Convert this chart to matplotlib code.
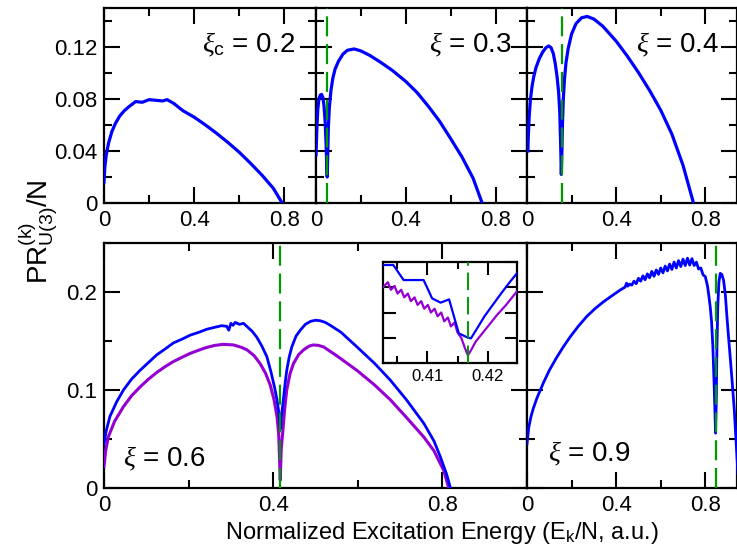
import matplotlib
matplotlib.use("Agg")
import matplotlib.pyplot as plt
from matplotlib.ticker import MultipleLocator, FuncFormatter

plt.rcParams['font.family'] = ['Liberation Sans', 'DejaVu Sans']
plt.rcParams['mathtext.fontset'] = 'custom'
plt.rcParams['mathtext.rm'] = 'Liberation Sans'
plt.rcParams['mathtext.it'] = 'Liberation Serif:italic'

BLUE = '#0000ff'
PURPLE = '#9400d3'
GREEN = '#009a00'

# ---- xi_c = 0.2 ----
x02 = [0, 0.004, 0.01, 0.02, 0.035, 0.05, 0.07, 0.09, 0.11, 0.14, 0.17, 0.2, 0.23,
       0.26, 0.28, 0.31, 0.35, 0.4, 0.45, 0.5, 0.55, 0.6, 0.65, 0.7, 0.75, 0.79]
y02 = [0.016, 0.028, 0.037, 0.046, 0.055, 0.061, 0.067, 0.071, 0.074, 0.078, 0.0775,
       0.0795, 0.079, 0.0785, 0.0795, 0.0765, 0.071, 0.066, 0.06, 0.0535, 0.0465,
       0.039, 0.0305, 0.0215, 0.0115, 0.0]

# ---- xi = 0.3 ----
x03 = [0, 0.004, 0.008, 0.013, 0.019, 0.025, 0.031, 0.036, 0.041, 0.045, 0.048, 0.05,
       0.052, 0.055, 0.06, 0.067, 0.075, 0.085, 0.1, 0.12, 0.14, 0.17, 0.2, 0.24, 0.29,
       0.34, 0.4, 0.45, 0.5, 0.55, 0.6, 0.65, 0.7, 0.74]
y03 = [0.037, 0.058, 0.072, 0.080, 0.083, 0.0835, 0.081, 0.074, 0.062, 0.045, 0.028,
       0.02, 0.035, 0.058, 0.075, 0.087, 0.096, 0.103, 0.109, 0.1145, 0.1175, 0.1185,
       0.117, 0.1135, 0.108, 0.102, 0.0935, 0.085, 0.0745, 0.063, 0.0495, 0.0355,
       0.019, 0.0]
xc03 = 0.049

# ---- xi = 0.4 ----
x04 = [0.004, 0.006, 0.01, 0.015, 0.022, 0.03, 0.04, 0.055, 0.07, 0.085, 0.097, 0.108,
       0.118, 0.127, 0.135, 0.142, 0.147, 0.151, 0.154, 0.156, 0.159, 0.163, 0.168,
       0.175, 0.185, 0.2, 0.22, 0.245, 0.27, 0.3, 0.34, 0.4, 0.45, 0.5, 0.55, 0.6,
       0.65, 0.7, 0.747]
y04 = [0.04, 0.052, 0.067, 0.079, 0.089, 0.097, 0.104, 0.111, 0.116, 0.1195, 0.1208,
       0.1195, 0.115, 0.107, 0.097, 0.085, 0.070, 0.045, 0.022, 0.035, 0.060, 0.080,
       0.095, 0.108, 0.119, 0.130, 0.138, 0.1425, 0.1435, 0.1415, 0.136, 0.1245,
       0.113, 0.1004, 0.0866, 0.0714, 0.053, 0.029, 0.0]
xc04 = 0.156

# ---- xi = 0.6 (two sizes) ----
x06b = [0, 0.005, 0.014, 0.03, 0.046, 0.065, 0.085, 0.105, 0.125, 0.145, 0.164, 0.185,
        0.204, 0.225, 0.243, 0.262, 0.278, 0.29, 0.295, 0.30, 0.305, 0.31, 0.32, 0.33,
        0.34, 0.35, 0.361, 0.373, 0.385, 0.395, 0.403, 0.409, 0.413, 0.4167, 0.42,
        0.424, 0.428, 0.432, 0.438, 0.444, 0.454, 0.464, 0.476, 0.488, 0.5, 0.511,
        0.523, 0.535, 0.56, 0.598, 0.64, 0.677, 0.715, 0.756, 0.78, 0.795, 0.81, 0.819]
y06b = [0.045, 0.058, 0.073, 0.088, 0.1, 0.111, 0.12, 0.128, 0.136, 0.142, 0.148, 0.152,
        0.156, 0.159, 0.162, 0.164, 0.1656, 0.165, 0.161, 0.168, 0.166, 0.169, 0.167,
        0.168, 0.164, 0.16, 0.154, 0.145, 0.134, 0.118, 0.103, 0.09, 0.078, 0.06, 0.075,
        0.09, 0.106, 0.12, 0.134, 0.144, 0.155, 0.161, 0.167, 0.170, 0.1712, 0.1707,
        0.169, 0.166, 0.159, 0.144, 0.127, 0.11, 0.09, 0.066, 0.048, 0.032, 0.014, 0.0]
x06p = [0, 0.004, 0.01, 0.025, 0.046, 0.065, 0.085, 0.105, 0.125, 0.145, 0.164, 0.185,
        0.204, 0.225, 0.243, 0.262, 0.282, 0.306, 0.325, 0.338, 0.355, 0.369, 0.382,
        0.393, 0.402, 0.409, 0.413, 0.4167, 0.419, 0.423, 0.427, 0.432, 0.44, 0.448,
        0.46, 0.472, 0.485, 0.495, 0.507, 0.519, 0.55, 0.598, 0.64, 0.677, 0.715,
        0.756, 0.78, 0.803, 0.815]
y06p = [0.022, 0.038, 0.052, 0.068, 0.083, 0.094, 0.103, 0.111, 0.118, 0.124, 0.129,
        0.1335, 0.1374, 0.1408, 0.1435, 0.1455, 0.1466, 0.146, 0.1435, 0.141, 0.135,
        0.127, 0.117, 0.105, 0.09, 0.073, 0.055, 0.008, 0.04, 0.059, 0.08, 0.1, 0.117,
        0.127, 0.136, 0.141, 0.1448, 0.146, 0.1455, 0.144, 0.135, 0.12, 0.105, 0.09,
        0.072, 0.052, 0.038, 0.018, 0.0]
xc06 = 0.4167

# zoom around the xi = 0.6 critical point
xin_b = [0.4027, 0.4035, 0.4044, 0.4061, 0.4094, 0.4108, 0.4122, 0.4136, 0.4152,
         0.4166, 0.4172, 0.4183, 0.4194, 0.4208, 0.4222, 0.4236, 0.4250]
yin_b = [0.1176, 0.1176, 0.1176, 0.1057, 0.1057, 0.0912, 0.0878, 0.0904, 0.0635,
         0.0603, 0.0595, 0.068, 0.0767, 0.086, 0.0952, 0.104, 0.1123]
xin_p = [0.4027, 0.4035, 0.4040, 0.4046, 0.4051, 0.4057, 0.4062, 0.4068, 0.4073,
         0.4079, 0.4084, 0.4090, 0.4095, 0.4101, 0.4106, 0.4112, 0.4117, 0.4123,
         0.4128, 0.4134, 0.4139, 0.4145, 0.4150, 0.4156, 0.4162, 0.4167, 0.4172,
         0.4180, 0.4190, 0.4200, 0.4215, 0.4230, 0.4250]
yin_p = [0.100, 0.104, 0.098, 0.101, 0.095, 0.098, 0.092, 0.095, 0.089, 0.092, 0.086,
         0.089, 0.083, 0.086, 0.080, 0.083, 0.077, 0.080, 0.073, 0.076, 0.069, 0.072,
         0.064, 0.060, 0.052, 0.046, 0.050, 0.057, 0.063, 0.069, 0.078, 0.086, 0.098]

# ---- xi = 0.9 ----
x09 = [0, 0.008, 0.018, 0.028, 0.045, 0.073, 0.1, 0.13, 0.16, 0.193, 0.23, 0.268,
       0.305, 0.343, 0.38, 0.418, 0.44, 0.447, 0.452,
       0.46, 0.47, 0.48, 0.49, 0.50, 0.51, 0.52, 0.53, 0.54, 0.55, 0.56, 0.57, 0.58,
       0.59, 0.60, 0.61, 0.62, 0.63, 0.64, 0.65, 0.66, 0.67, 0.68, 0.69, 0.70, 0.71,
       0.72, 0.73, 0.74, 0.75, 0.76, 0.77, 0.78, 0.79, 0.80,
       0.81, 0.816, 0.822, 0.828, 0.834, 0.839, 0.843, 0.846, 0.849, 0.852, 0.856,
       0.861, 0.867, 0.874, 0.882, 0.89, 0.897, 0.905, 0.913, 0.92, 0.93, 0.942, 0.948]
y09 = [0.045, 0.062, 0.073, 0.081, 0.092, 0.107, 0.12, 0.132, 0.143, 0.154, 0.165,
       0.175, 0.183, 0.19, 0.196, 0.202, 0.205, 0.209, 0.206,
       0.208, 0.207, 0.211, 0.2085, 0.214, 0.211, 0.2165, 0.2125, 0.2185, 0.2145,
       0.221, 0.216, 0.2225, 0.218, 0.2245, 0.2195, 0.2265, 0.2215, 0.2285, 0.2230,
       0.2305, 0.2245, 0.2320, 0.2260, 0.2335, 0.2270, 0.2345, 0.2275, 0.2340, 0.2270,
       0.2305, 0.2235, 0.2245, 0.2175, 0.2157,
       0.206, 0.196, 0.185, 0.17, 0.144, 0.11, 0.08, 0.056, 0.085, 0.14, 0.185,
       0.21, 0.219, 0.218, 0.212, 0.197, 0.175, 0.152, 0.13, 0.11, 0.08, 0.032, 0.01]
xc09 = 0.849

W, H = 737, 552


def box(x0, y0, x1, y1):
    # pixel box (top-left origin) -> figure fraction rect
    return [x0 / W, 1 - y1 / H, (x1 - x0) / W, (y1 - y0) / H]


def style(ax, xmaj, xmin, ymaj, ymin, ylabels=True, size=16, maj=11.5, mnr=6):
    ax.xaxis.set_major_locator(MultipleLocator(xmaj))
    ax.xaxis.set_minor_locator(MultipleLocator(xmin))
    ax.yaxis.set_major_locator(MultipleLocator(ymaj))
    ax.yaxis.set_minor_locator(MultipleLocator(ymin))
    fmt = FuncFormatter(lambda v, p: '%g' % round(v, 6))
    ax.xaxis.set_major_formatter(fmt)
    ax.yaxis.set_major_formatter(fmt)
    ax.tick_params(which='both', direction='in', top=True, right=True,
                   width=1.5, labelsize=size, pad=5)
    ax.tick_params(which='major', length=maj)
    ax.tick_params(which='minor', length=mnr)
    if not ylabels:
        ax.tick_params(labelleft=False)
    for s in ax.spines.values():
        s.set_linewidth(1.6)


def crit(ax, xc, lw=1.6):
    ax.axvline(xc, color=GREEN, lw=lw, dashes=(9, 3.5), zorder=5)


fig = plt.figure(figsize=(7.37, 5.52), dpi=100)

ax1 = fig.add_axes(box(104, 8, 316, 203))
ax2 = fig.add_axes(box(316, 8, 527, 203))
ax3 = fig.add_axes(box(527, 8, 736.5, 203))
ax4 = fig.add_axes(box(104, 243, 527, 488))
ax5 = fig.add_axes(box(527, 243, 736.5, 488))

for ax, xs, ys in [(ax1, x02, y02), (ax2, x03, y03), (ax3, x04, y04)]:
    ax.plot(xs, ys, color=BLUE, lw=2.3, zorder=4)
    ax.set_xlim(0, 0.94)
    ax.set_ylim(0, 0.15)
    style(ax, 0.4, 0.2, 0.04, 0.02, ylabels=(ax is ax1))
crit(ax2, xc03)
crit(ax3, xc04)

ax4.plot(x06p, y06p, color=PURPLE, lw=2.2, zorder=4)
ax4.plot(x06b, y06b, color=BLUE, lw=2.0, zorder=4)
crit(ax4, xc06)
ax4.set_xlim(0, 1.0)
ax4.set_ylim(0, 0.25)
style(ax4, 0.4, 0.2, 0.1, 0.05)

ax5.plot(x09, y09, color=BLUE, lw=2.0, zorder=4)
crit(ax5, xc09)
ax5.set_xlim(0, 0.94)
ax5.set_ylim(0, 0.25)
style(ax5, 0.4, 0.2, 0.1, 0.05, ylabels=False)

ax1.text(0.90, 0.77, r'$\xi_{\mathrm{c}}$ = 0.2', transform=ax1.transAxes,
         ha='right', va='baseline', fontsize=20)
ax2.text(0.93, 0.77, r'$\xi$ = 0.3', transform=ax2.transAxes,
         ha='right', va='baseline', fontsize=20)
ax3.text(0.92, 0.77, r'$\xi$ = 0.4', transform=ax3.transAxes,
         ha='right', va='baseline', fontsize=20)
ax4.text(0.045, 0.087, r'$\xi$ = 0.6', transform=ax4.transAxes,
         ha='left', va='baseline', fontsize=20)
ax5.text(0.10, 0.107, r'$\xi$ = 0.9', transform=ax5.transAxes,
         ha='left', va='baseline', fontsize=20)

# inset
axi = fig.add_axes(box(383, 262, 517, 363))
axi.plot(xin_p, yin_p, color=PURPLE, lw=1.6, zorder=4)
axi.plot(xin_b, yin_b, color=BLUE, lw=1.6, zorder=4)
crit(axi, xc06, lw=1.4)
axi.set_xlim(0.4027, 0.4248)
axi.set_ylim(0.04, 0.12)
style(axi, 0.01, 0.005, 0.02, 0.02, ylabels=False, size=12, maj=9, mnr=5)
axi.tick_params(pad=4)

fig.text(0.052, 0.58, r'PR$^{(\mathrm{k})}_{\mathrm{U(3)}}$/N', rotation=90,
         ha='center', va='center', fontsize=20)
fig.text(0.60, 0.034, r'Normalized Excitation Energy (E$_{\mathrm{k}}$/N, a.u.)',
         ha='center', va='center', fontsize=17)

fig.savefig('out.png', dpi=100)
